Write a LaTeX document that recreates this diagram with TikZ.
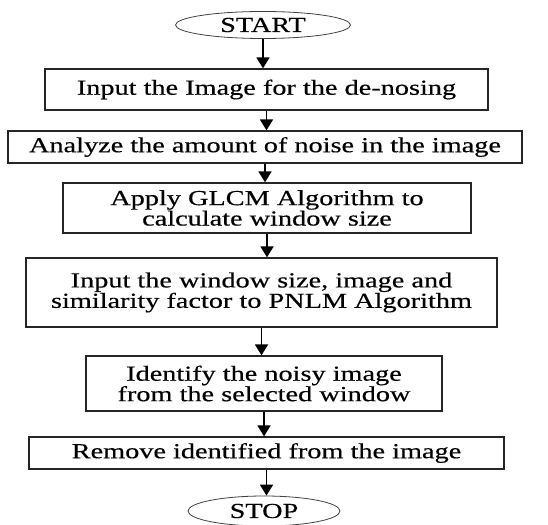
\documentclass[tikz,border=0pt]{standalone}
\usepackage{fontspec}
\setmainfont[FakeStretch=1.32,FakeBold=0.4]{Liberation Serif}
\usetikzlibrary{shapes.geometric,arrows.meta}
\tikzset{
  stepbox/.style={draw=black!85,line width=1.3pt,inner sep=0pt,align=center,
    font=\fontsize{21.5}{20.5}\selectfont},
  term/.style={draw=black!75,ellipse,line width=0.8pt,inner sep=0pt,
    font=\fontsize{21.5}{20.5}\selectfont},
  flow/.style={-{Triangle[width=13bp,length=11bp]},line width=1.8pt}
}
\begin{document}
\begin{tikzpicture}[x=1bp,y=-1bp]
\useasboundingbox (0,0) rectangle (548,525);

\node[term,minimum width=175bp,minimum height=27bp] (start) at (263,25) {START};
\node[stepbox,minimum width=443bp,minimum height=41bp] (b1) at (266.5,89.5) {Input the Image for the de-nosing};
\node[stepbox,minimum width=514bp,minimum height=32bp] (b2) at (265,147) {Analyze the amount of noise in the image};
\node[stepbox,minimum width=408bp,minimum height=50bp] (b3) at (267,208) {Apply GLCM Algorithm to\\calculate window size};
\node[stepbox,minimum width=471bp,minimum height=69bp] (b4) at (261.5,292.5) {Input the window size, image and\\similarity factor to PNLM Algorithm};
\node[stepbox,minimum width=356bp,minimum height=55bp] (b5) at (264,383.5) {Identify the noisy image\\from the selected window};
\node[stepbox,minimum width=475bp,minimum height=32bp] (b6) at (266.5,453) {Remove identified from the image};
\node[term,minimum width=152bp,minimum height=30bp] (stop) at (264,511) {STOP};

% arrows
\draw[flow] (start.south) -- (start.south |- b1.north);
\draw[flow] (b1.south) -- (b1.south |- b2.north);
\draw[flow] (b2.south) -- (b2.south |- b3.north);
\draw[flow] (b3.south) -- (b3.south |- b4.north);
\draw[flow] (b4.south) -- (b4.south |- b5.north);
\draw[flow] (b5.south) -- (b5.south |- b6.north);
\draw[flow] (b6.south) -- (b6.south |- stop.north);
\end{tikzpicture}
\end{document}
